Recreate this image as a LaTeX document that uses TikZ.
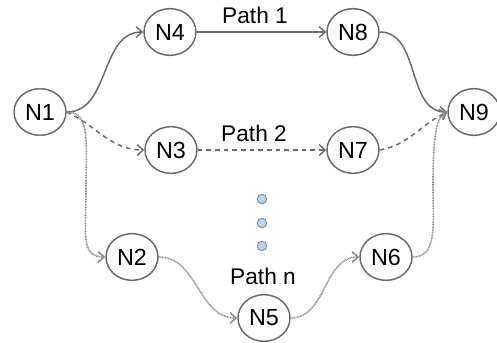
\documentclass[tikz,border=0pt]{standalone}
\usepackage{fontspec}
\setmainfont{Liberation Sans}
\usetikzlibrary{shapes.geometric,arrows.meta}
\definecolor{edgegray}{HTML}{6A6A6A}
\definecolor{lightgray}{HTML}{8E8E8E}
\definecolor{dotblue}{HTML}{B5D6F5}
\tikzset{
  nd/.style={ellipse, draw=edgegray, line width=1.1pt, fill=white,
    minimum width=39pt, minimum height=35pt, inner sep=0pt,
    font=\fontsize{17.5}{20}\selectfont},
  lbl/.style={anchor=base, font=\fontsize{17}{20}\selectfont},
  tip/.style={-{Straight Barb[length=4.5pt,width=8pt]}},
  solidE/.style={tip, draw=edgegray, line width=1.1pt},
  dashE/.style={tip, draw=edgegray, line width=1.1pt, dash pattern=on 3.5pt off 3pt},
  dotE/.style={tip, draw=lightgray, line width=1.2pt, dash pattern=on 0.7pt off 0.5pt},
  pdot/.style={circle, draw=lightgray, fill=dotblue, line width=0.8pt,
    minimum size=7pt, inner sep=0pt}
}
\begin{document}
\begin{tikzpicture}[x=0.75pt,y=-0.75pt]
\useasboundingbox (0,0) rectangle (497,343);

% nodes
\node[nd] (N1) at (40,112) {N1};
\node[nd] (N4) at (170,32) {N4};
\node[nd] (N8) at (353,32) {N8};
\node[nd] (N3) at (171,150) {N3};
\node[nd] (N7) at (353,150) {N7};
\node[nd] (N9) at (474,112) {N9};
\node[nd] (N2) at (132,257) {N2};
\node[nd] (N6) at (386,257) {N6};
\node[nd] (N5) at (264,318) {N5};

% path labels
\node[lbl] (p1) at (255,23) {Path 1};
\node[lbl] (p2) at (254,141) {Path 2};
\node[lbl] (pn) at (263,284) {Path n};

% ellipsis dots
\node[pdot] (d1) at (262,199) {};
\node[pdot] (d2) at (262,223) {};
\node[pdot] (d3) at (262,246) {};

% helper points for the outer dotted routes
\coordinate (m1) at (86,188);
\coordinate (m2) at (433,185);

% path 1
\draw[solidE] (N1.east) to[out=0,in=180] (N4.west);
\draw[solidE] (N4) -- (N8);
\draw[solidE] (N8.east) to[out=0,in=180] (N9.west);

% path 2
\draw[dashE] (N1.east) to[out=-25,in=180] (N3.west);
\draw[dashE] (N3) -- (N7);
\draw[dashE] (N7.east) to[out=10,in=205] (N9.west);

% path n
\draw[dotE] (N1.east) .. controls +(24,0) and +(0,-45) .. (m1)
  .. controls +(0,45) and +(-25,0) .. (N2.west);
\draw[dotE] (N2.east) to[out=0,in=180] (N5.west);
\draw[dotE] (N5.east) to[out=0,in=180] (N6.west);
\draw[dotE] (N6.east) .. controls +(25,0) and +(0,40) .. (m2)
  .. controls +(0,-40) and +(-12,4) .. (N9.west);
\end{tikzpicture}
\end{document}
